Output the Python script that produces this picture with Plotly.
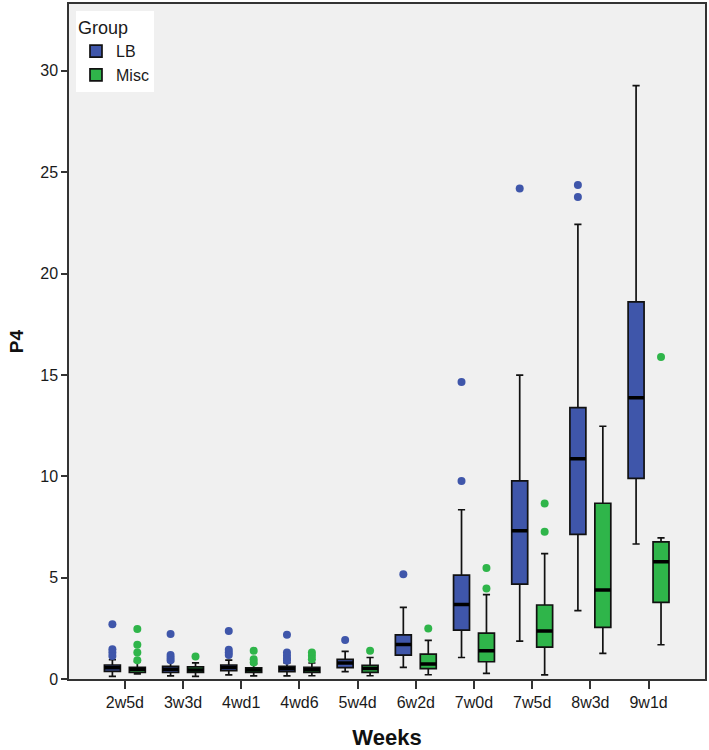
import plotly.graph_objects as go

categories = ["2w5d", "3w3d", "4wd1", "4wd6", "5w4d", "6w2d", "7w0d", "7w5d", "8w3d", "9w1d"]

lb_lower = [0.13, 0.15, 0.20, 0.15, 0.36, 0.57, 1.06, 1.87, 3.37, 6.66]
lb_q1 = [0.38, 0.33, 0.41, 0.36, 0.56, 1.18, 2.41, 4.68, 7.13, 9.90]
lb_median = [0.55, 0.48, 0.57, 0.50, 0.79, 1.70, 3.68, 7.31, 10.87, 13.88]
lb_q3 = [0.69, 0.62, 0.69, 0.62, 0.97, 2.18, 5.12, 9.77, 13.39, 18.60]
lb_upper = [0.95, 0.85, 0.93, 0.80, 1.36, 3.53, 8.35, 14.99, 22.43, 29.27]
lb_outliers = [[2.70, 1.47, 1.31, 1.14], [2.22, 1.19, 1.05, 0.93], [2.37, 1.44, 1.31, 1.18],
               [2.18, 1.31, 1.15, 1.00, 0.90], [1.93], [5.17], [14.65, 9.77], [24.20],
               [24.37, 23.78], []]

misc_lower = [0.25, 0.13, 0.15, 0.16, 0.16, 0.21, 0.28, 0.20, 1.26, 1.69]
misc_q1 = [0.33, 0.33, 0.32, 0.33, 0.33, 0.51, 0.85, 1.57, 2.55, 3.78]
misc_median = [0.48, 0.45, 0.45, 0.46, 0.52, 0.74, 1.39, 2.37, 4.39, 5.78]
misc_q3 = [0.57, 0.60, 0.55, 0.57, 0.67, 1.23, 2.26, 3.65, 8.67, 6.76]
misc_upper = [0.85, 0.80, 0.75, 0.79, 1.06, 1.91, 4.16, 6.19, 12.47, 6.96]
misc_outliers = [[2.47, 1.69, 1.31, 0.93], [1.11], [1.39, 0.98, 0.82], [1.31, 1.15, 0.98],
                 [1.39], [2.49], [5.47, 4.47], [8.66, 7.27], [], [15.89]]

y_ticks = [0, 5, 10, 15, 20, 25, 30]

groups = [
    ("LB", "#3F56AA", lb_lower, lb_q1, lb_median, lb_q3, lb_upper, lb_outliers),
    ("Misc", "#2FB54A", misc_lower, misc_q1, misc_median, misc_q3, misc_upper, misc_outliers),
]

fig = go.Figure()
for name, color, lo, q1, med, q3, up, outs in groups:
    fig.add_trace(go.Box(
        name=name, x=categories, q1=q1, median=med, q3=q3,
        lowerfence=lo, upperfence=up, boxpoints=False,
        offsetgroup=name, fillcolor=color,
        line=dict(color="#111111", width=1.7), whiskerwidth=0.45,
        hoverinfo="skip",
    ))
    # thick median line overlay
    fig.add_trace(go.Box(
        name=name, x=categories, q1=med, median=med, q3=med,
        lowerfence=med, upperfence=med, boxpoints=False,
        offsetgroup=name, fillcolor="rgba(0,0,0,0)",
        line=dict(color="#000000", width=3.5), whiskerwidth=0,
        showlegend=False, hoverinfo="skip",
    ))
    ox, oy = [], []
    for c, vals in zip(categories, outs):
        for v in vals:
            ox.append(c)
            oy.append(v)
    fig.add_trace(go.Scatter(
        x=ox, y=oy, mode="markers", offsetgroup=name,
        marker=dict(color=color, size=8), showlegend=False,
    ))

fig.update_layout(
    width=709, height=750,
    margin=dict(l=69, r=3, t=2, b=70),
    paper_bgcolor="white", plot_bgcolor="#F0F0F0",
    boxmode="group", boxgap=0.143, boxgroupgap=0.36,
    scattermode="group", scattergap=0.143,
    font=dict(family="Liberation Sans, Arial, sans-serif", size=16, color="#1a1a1a"),
    legend=dict(
        title=dict(text="Group", font=dict(size=18)),
        x=0.011, y=0.99, xanchor="left", yanchor="top",
        bgcolor="white", font=dict(size=16), tracegroupgap=0,
        itemwidth=30,
    ),
    showlegend=True,
)
fig.update_xaxes(
    type="category", categoryorder="array", categoryarray=categories,
    range=[-0.96, 9.97],
    showline=True, linecolor="#333333", linewidth=1.5, mirror=True,
    ticks="outside", ticklen=8, tickcolor="#333333", tickwidth=1.5,
    showgrid=False, zeroline=False,
    tickfont=dict(size=16, color="#1a1a1a"),
    title=dict(text="<b>Weeks</b>", font=dict(size=22, color="#111111"), standoff=22),
)
fig.update_yaxes(
    range=[0, 33.3], tickvals=y_ticks,
    showline=True, linecolor="#333333", linewidth=1.5, mirror=True,
    ticks="outside", ticklen=6, tickcolor="#333333", tickwidth=1.5,
    showgrid=False, zeroline=False,
    tickfont=dict(size=16, color="#1a1a1a"),
    title=dict(text="<b>P4</b>", font=dict(size=19, color="#111111"), standoff=12),
)

fig.write_html("out.html", config={"displayModeBar": False},
               post_script="document.body.style.margin='0';")
